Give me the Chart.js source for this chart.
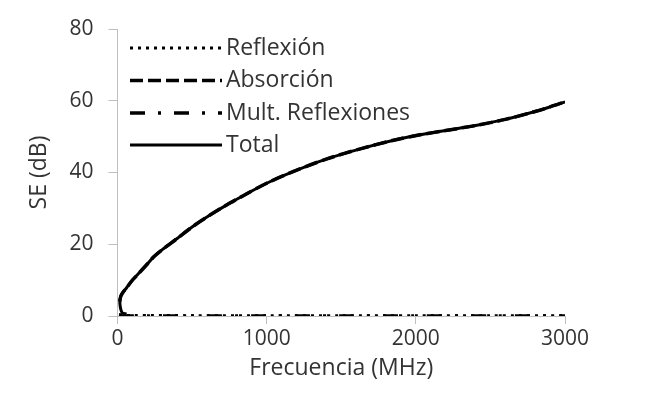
<!DOCTYPE html>
<html>
<head>
<meta charset="utf-8">
<script src="https://cdn.jsdelivr.net/npm/chart.js@4/dist/chart.umd.min.js"></script>
<style>
html,body{margin:0;padding:0;background:#fff;}
#wrap{width:660px;height:404px;position:relative;}
</style>
</head>
<body>
<div id="wrap"><canvas id="c" width="660" height="404"></canvas></div>
<script>
// Data
const seriesNames = ['Reflexión', 'Absorción', 'Mult. Reflexiones', 'Total'];

const totalFreq = [60, 30, 16, 22, 35, 60, 100, 132, 200, 243, 300, 400, 500, 623, 750, 846, 1000, 1181, 1404, 1628, 1851, 2029, 2200, 2400, 2600, 2800, 2900, 3000];
const totalSE   = [0.5, 1.0, 3.5, 5.5, 6.5, 7.8, 10.0, 11.4, 14.5, 16.5, 18.5, 21.6, 24.8, 28.2, 31.4, 33.6, 37.0, 40.3, 43.8, 46.6, 49.0, 50.5, 51.7, 53.1, 54.8, 57.0, 58.3, 59.7];

const absFreq = [14, 22, 35, 60, 100, 132, 200, 243, 300, 400, 500, 623, 750, 846, 1000, 1181, 1404, 1628, 1851, 2029, 2200, 2400, 2600, 2800, 2900, 3000];
const absSE   = [4.0, 5.5, 6.5, 7.8, 10.0, 11.4, 14.5, 16.5, 18.5, 21.6, 24.8, 28.2, 31.4, 33.6, 37.0, 40.3, 43.8, 46.6, 49.0, 50.5, 51.7, 53.1, 54.8, 57.0, 58.3, 59.7];

const reflFreq = [10, 50, 100, 500, 1000, 1500, 2000, 2500, 3000];
const reflSE   = [0.4, 0.2, 0.15, 0.1, 0.05, 0.05, 0.05, 0.05, 0.05];

const multFreq = [10, 50, 100, 500, 1000, 1500, 2000, 2500, 3000];
const multSE   = [0.0, 0.0, 0.0, 0.0, 0.0, 0.0, 0.0, 0.0, 0.0];

const yTicks = [0, 20, 40, 60, 80];
const xTicks = [0, 1000, 2000, 3000];

const toPts = (xs, ys) => xs.map((x, i) => ({x: x, y: ys[i]}));

const FONT = "'Open Sans', sans-serif";
const TXT = '#333333';
const AX = '#bfbfbf';

const legendPlugin = {
  id: 'insideLegend',
  afterDraw(chart) {
    const ctx = chart.ctx;
    const rows = [48, 80.5, 113, 145];
    chart.data.datasets.forEach((ds, i) => {
      const y = rows[i];
      ctx.save();
      ctx.strokeStyle = ds.borderColor;
      ctx.lineWidth = ds.borderWidth;
      ctx.lineCap = 'butt';
      ctx.setLineDash(ds.borderDash || []);
      ctx.beginPath();
      ctx.moveTo(130, y);
      ctx.lineTo(222, y);
      ctx.stroke();
      ctx.setLineDash([]);
      ctx.fillStyle = TXT;
      ctx.font = "23px " + FONT;
      ctx.textBaseline = 'middle';
      ctx.textAlign = 'left';
      ctx.fillText(ds.label, 226, y);
      ctx.restore();
    });
  }
};

new Chart(document.getElementById('c'), {
  type: 'scatter',
  data: {
    datasets: [
      {label: seriesNames[0], data: toPts(reflFreq, reflSE), showLine: true, borderColor: '#000', borderWidth: 3, borderDash: [3, 5], pointRadius: 0, tension: 0.3, order: 3},
      {label: seriesNames[1], data: toPts(absFreq, absSE), showLine: true, borderColor: '#000', borderWidth: 3.5, borderDash: [13, 5], pointRadius: 0, tension: 0.3, order: 2},
      {label: seriesNames[2], data: toPts(multFreq, multSE), showLine: true, borderColor: '#000', borderWidth: 3.5, borderDash: [15, 13, 3, 13], pointRadius: 0, tension: 0.3, order: 1},
      {label: seriesNames[3], data: toPts(totalFreq, totalSE), showLine: true, borderColor: '#000', borderWidth: 3, pointRadius: 0, tension: 0.3, order: 0}
    ]
  },
  options: {
    responsive: false,
    animation: false,
    devicePixelRatio: 1,
    layout: {padding: {left: 0, right: 95, top: 29, bottom: 22}},
    plugins: {legend: {display: false}, tooltip: {enabled: false}},
    scales: {
      x: {
        type: 'linear', min: 0, max: 3000,
        afterBuildTicks: s => { s.ticks = xTicks.map(v => ({value: v})); },
        afterFit: s => { s.height = 66; },
        ticks: {color: TXT, font: {family: FONT, size: 21}, padding: 2, maxRotation: 0, callback: v => String(v)},
        grid: {display: true, drawOnChartArea: false, drawTicks: true, tickLength: 8, color: AX, lineWidth: 1},
        border: {display: true, color: AX, width: 1},
        title: {display: true, text: 'Frecuencia (MHz)', color: TXT, font: {family: FONT, size: 23}, padding: {top: 0, bottom: 0}}
      },
      y: {
        min: 0, max: 80,
        afterBuildTicks: s => { s.ticks = yTicks.map(v => ({value: v})); },
        afterFit: s => { s.width = 117.5; },
        ticks: {color: TXT, font: {family: FONT, size: 21}, padding: 15},
        grid: {display: true, drawOnChartArea: false, drawTicks: true, tickLength: 9, color: AX, lineWidth: 1},
        border: {display: true, color: AX, width: 1},
        title: {display: true, text: 'SE (dB)', color: TXT, font: {family: FONT, size: 23}, padding: {top: 26, bottom: 0}}
      }
    }
  },
  plugins: [legendPlugin]
});
</script>
</body>
</html>
